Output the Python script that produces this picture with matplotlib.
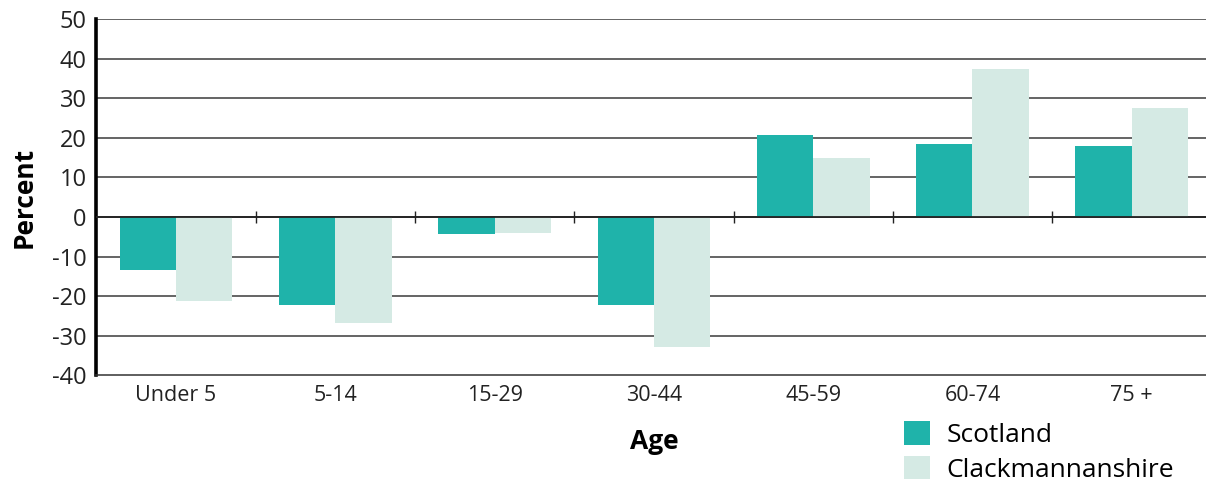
import matplotlib
matplotlib.use("Agg")
import matplotlib.pyplot as plt
import numpy as np

# data
ages = ["Under 5", "5-14", "15-29", "30-44", "45-59", "60-74", "75+"]
scotland = [-13.3, -22.2, -4.2, -22.2, 20.7, 18.5, 18.0]
clackmannanshire = [-21.3, -26.7, -4.0, -32.8, 14.9, 37.4, 27.6]
yticks = list(range(-40, 51, 10))

plt.rcParams['font.family'] = ['Open Sans', 'DejaVu Sans']

fig = plt.figure(figsize=(12.06, 4.84), dpi=100)
ax = fig.add_axes([0.0799, 0.225, 0.9246, 0.735])

x = np.arange(len(ages))
w = 0.354
b1 = ax.bar(x - w / 2, scotland, w, color='#1fb3aa', label='Scotland', zorder=3)
b2 = ax.bar(x + w / 2, clackmannanshire, w, color='#d5eae4', label='Clackmannanshire', zorder=3)

ax.set_xlim(-0.5, len(ages) - 0.5)
ax.set_ylim(-40, 50)
ax.set_yticks(yticks)
ax.set_yticklabels([str(t) for t in yticks], fontsize=17, color='#222')
ax.set_xticks(x)
ax.set_xticklabels([a.replace('+', ' +') for a in ages], fontsize=15.5, color='#222')
ax.tick_params(length=0, pad=7)
ax.tick_params(axis='x', pad=7)

for t in yticks[1:]:
    ax.axhline(t, color='#3a3a3a', lw=1.1, zorder=1)
ax.axhline(0, color='#222', lw=1.3, zorder=4)
# small tick marks on the zero line between groups
bounds = x[:-1] + 0.5
ax.plot(bounds, np.zeros(len(bounds)), ls='none', marker='|', ms=9, mew=1, color='#222', zorder=4)

for s in ['top', 'right']:
    ax.spines[s].set_visible(False)
ax.spines['left'].set_linewidth(2.6)
ax.spines['left'].set_color('black')
ax.spines['bottom'].set_color('#333')
ax.spines['bottom'].set_linewidth(1.1)

ax.set_ylabel('Percent', fontsize=19, fontweight='bold', labelpad=10)
ax.set_xlabel('Age', fontsize=19, fontweight='bold', labelpad=16)

fig.legend(handles=[b1, b2], loc='upper left', bbox_to_anchor=(0.7496, 0.13),
           frameon=False, fontsize=19, handlelength=1.0, handleheight=1.0,
           handletextpad=0.6, labelspacing=0.3, borderpad=0, borderaxespad=0)

fig.savefig('out.png', dpi=100)
